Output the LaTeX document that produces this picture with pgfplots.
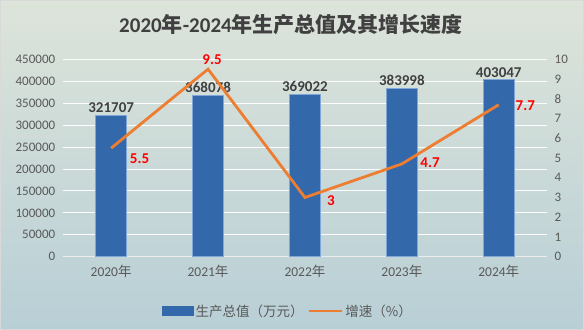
\documentclass[border=0pt]{standalone}
\usepackage{fontspec}
\usepackage{pgfplots}
\pgfplotsset{compat=1.18}
\setmainfont{Carlito}
\newfontfamily\cjk{Noto Sans CJK SC}
\definecolor{bgtop}{HTML}{DDE4DA}
\definecolor{bgbot}{HTML}{B8CFD6}
\definecolor{barblue}{HTML}{3369AB}
\definecolor{barline}{HTML}{7FA6D6}
\definecolor{lineorange}{HTML}{ED7D31}
\definecolor{labred}{HTML}{FF0000}
\definecolor{labdark}{HTML}{404040}
\definecolor{tickgray}{HTML}{595959}
\begin{document}
\begin{tikzpicture}
\shade[top color=bgtop,bottom color=bgbot] (-62.7bp,-73.3bp) rectangle (521.3bp,256.7bp);
\draw[color=black!15,line width=0.8bp] (-62.3bp,-72.9bp) rectangle (520.9bp,256.3bp);
\path[use as bounding box] (-62.7bp,-73.3bp) rectangle (521.3bp,256.7bp);
\node[color=labdark,font=\fontsize{21bp}{24bp}\selectfont\bfseries] at (228.3bp,231.7bp)
  {2020{\cjk 年}-2024{\cjk 年生产总值及其增长速度}};
\begin{axis}[
  at={(0,0)}, anchor=south west,
  scale only axis, width=484.5bp, height=197.4bp,
  xmin=-0.5, xmax=4.5, ymin=0, ymax=450000,
  ytick distance=50000,
  xtick={0,1,2,3,4},
  xticklabels={2020{\cjk 年},2021{\cjk 年},2022{\cjk 年},2023{\cjk 年},2024{\cjk 年}},
  axis y line*=left, axis x line*=bottom,
  x axis line style={draw=white!85!gray,line width=0.8bp},
  y axis line style={draw=none},
  major tick length=0pt,
  clip=false,
  ymajorgrids, grid style={draw=white!92!bgtop,line width=0.9bp},
  scaled y ticks=false,
  /pgf/number format/assume math mode=true,
  yticklabel style={/pgf/number format/fixed,/pgf/number format/1000 sep={},
    font=\fontsize{13bp}{15bp}\selectfont, color=tickgray, xshift=-4bp},
  xticklabel style={font=\fontsize{13.5bp}{15bp}\selectfont, color=tickgray, yshift=-5bp},
  ybar, bar width=31.5bp,
  point meta=explicit symbolic,
  nodes near coords,
  nodes near coords style={font=\fontsize{15bp}{17bp}\selectfont\bfseries, color=labdark, yshift=-1bp},
]
\addplot[fill=barblue, draw=barline, line width=0.8bp] coordinates {
  (0,321707) [321707]
  (1,368078) [368078]
  (2,369022) [369022]
  (3,383998) [383998]
  (4,403047) [403047]
};
\end{axis}
\begin{axis}[
  at={(0,0)}, anchor=south west,
  scale only axis, width=484.5bp, height=197.4bp,
  xmin=-0.5, xmax=4.5, ymin=0, ymax=10,
  ytick distance=1,
  axis y line*=right, axis x line=none,
  y axis line style={draw=none},
  major tick length=0pt,
  clip=false,
  /pgf/number format/assume math mode=true,
  yticklabel style={font=\fontsize{13bp}{15bp}\selectfont, color=tickgray, xshift=4bp},
  legend style={at={(axis description cs:0.465,-0.275)}, anchor=center,
    draw=none, fill=none, legend columns=2,
    font=\cjk\fontsize{13.5bp}{15bp}\selectfont, text=tickgray,
    /tikz/every even column/.append style={column sep=2bp}},
]
\addlegendimage{legend image code/.code={\fill[barblue] (0bp,-4bp) rectangle (31bp,4.5bp);}}
\addlegendentry{生产总值（万元）}
\addplot[color=lineorange, line width=2.8bp, mark=none,
  legend image code/.code={\draw[lineorange,line width=2.8bp] (0bp,0bp) -- (33bp,0bp);}]
  coordinates {(0,5.5) (1,9.5) (2,3) (3,4.7) (4,7.7)};
\addlegendentry{增速（\%）}
\begin{scope}[every node/.style={font=\fontsize{15bp}{17bp}\selectfont\bfseries, text=labred, inner sep=0pt}]
\node[anchor=west, xshift=18.6bp, yshift=-11bp] at (axis cs:0,5.5) {5.5};
\node[anchor=center, xshift=4bp, yshift=10bp] at (axis cs:1,9.5) {9.5};
\node[anchor=west, xshift=22bp, yshift=-3bp] at (axis cs:2,3) {3};
\node[anchor=west, xshift=18.4bp, yshift=1.6bp] at (axis cs:3,4.7) {4.7};
\node[anchor=west, xshift=16.7bp, yshift=-1bp] at (axis cs:4,7.7) {7.7};
\end{scope}
\end{axis}
\end{tikzpicture}
\end{document}
